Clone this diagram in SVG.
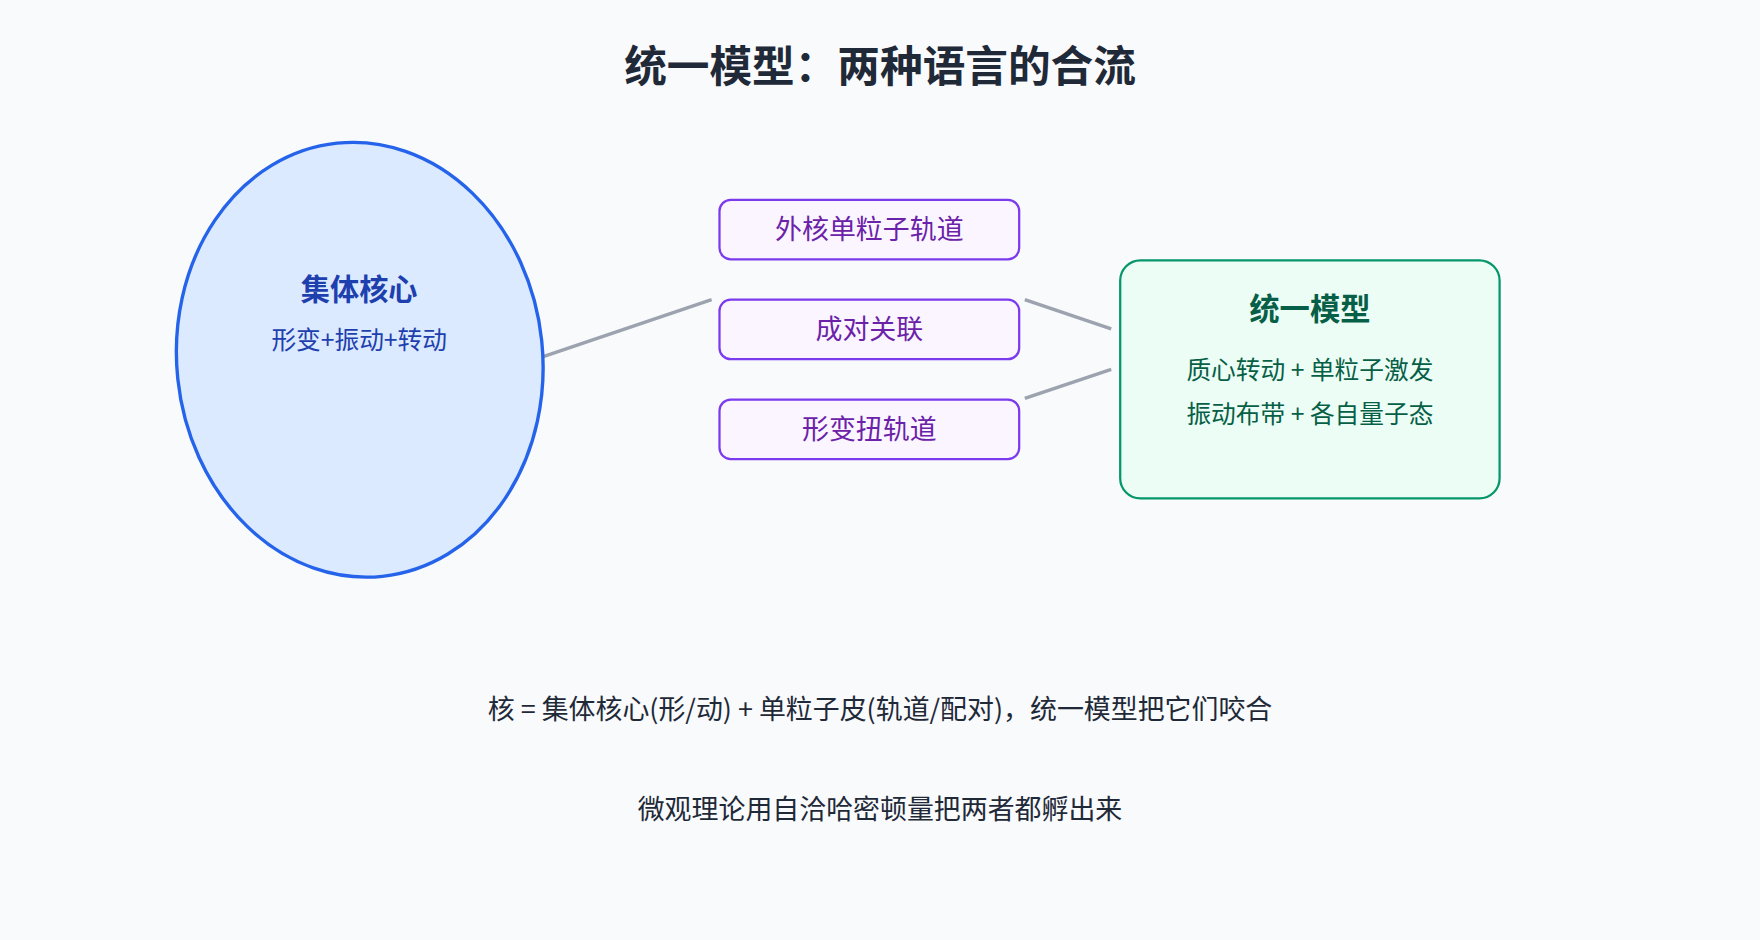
<svg xmlns="http://www.w3.org/2000/svg" width="1760" height="940" viewBox="0 0 1760 940">
<style>
text{font-family:"Noto Sans CJK SC","Noto Sans",sans-serif;text-anchor:middle}
.pb{fill:#faf5ff;stroke:#7c3aed;stroke-width:2}
.pt{fill:#6b21a8;font-size:24px}
.c{stroke:#9ca3af;stroke-width:3;fill:none}
</style>
<rect width="1760" height="940" fill="#f8fafc"/>
<g transform="scale(1.12245)">
<text x="784" y="73" font-size="38" font-weight="bold" fill="#1f2937">统一模型：两种语言的合流</text>
<g id="connectors">
<line class="c" x1="480" y1="319" x2="634" y2="267"/>
<line class="c" x1="913" y1="267" x2="990" y2="293"/>
<line class="c" x1="913" y1="355" x2="990" y2="329"/>
</g>
<g id="core">
<ellipse cx="320.5" cy="320.5" rx="163" ry="194" transform="rotate(-6 320.5 320.5)" fill="#dbeafe" stroke="#2563eb" stroke-width="3"/>
<text x="320" y="267" font-size="26" font-weight="bold" fill="#1e40af">集体核心</text>
<text x="320" y="311" font-size="22" fill="#1e40af">形变+振动+转动</text>
</g>
<g id="p1"><rect class="pb" x="641" y="178" width="267" height="53" rx="10"/><text class="pt" x="774.5" y="213">外核单粒子轨道</text></g>
<g id="p2"><rect class="pb" x="641" y="267" width="267" height="53" rx="10"/><text class="pt" x="774.5" y="302">成对关联</text></g>
<g id="p3"><rect class="pb" x="641" y="356" width="267" height="53" rx="10"/><text class="pt" x="774.5" y="391">形变扭轨道</text></g>
<g id="unified">
<rect x="998" y="232" width="338" height="212" rx="18" fill="#ecfdf5" stroke="#059669" stroke-width="2"/>
<text x="1167" y="285" font-size="27" font-weight="bold" fill="#065f46">统一模型</text>
<text x="1167" y="338" font-size="22" fill="#065f46">质心转动 + 单粒子激发</text>
<text x="1167" y="377" font-size="22" fill="#065f46">振动布带 + 各自量子态</text>
</g>
<text x="784" y="641" font-size="24" fill="#1f2937">核 = 集体核心(形/动) + 单粒子皮(轨道/配对)，统一模型把它们咬合</text>
<text x="784" y="730" font-size="24" fill="#1f2937">微观理论用自洽哈密顿量把两者都孵出来</text>
</g>
</svg>
